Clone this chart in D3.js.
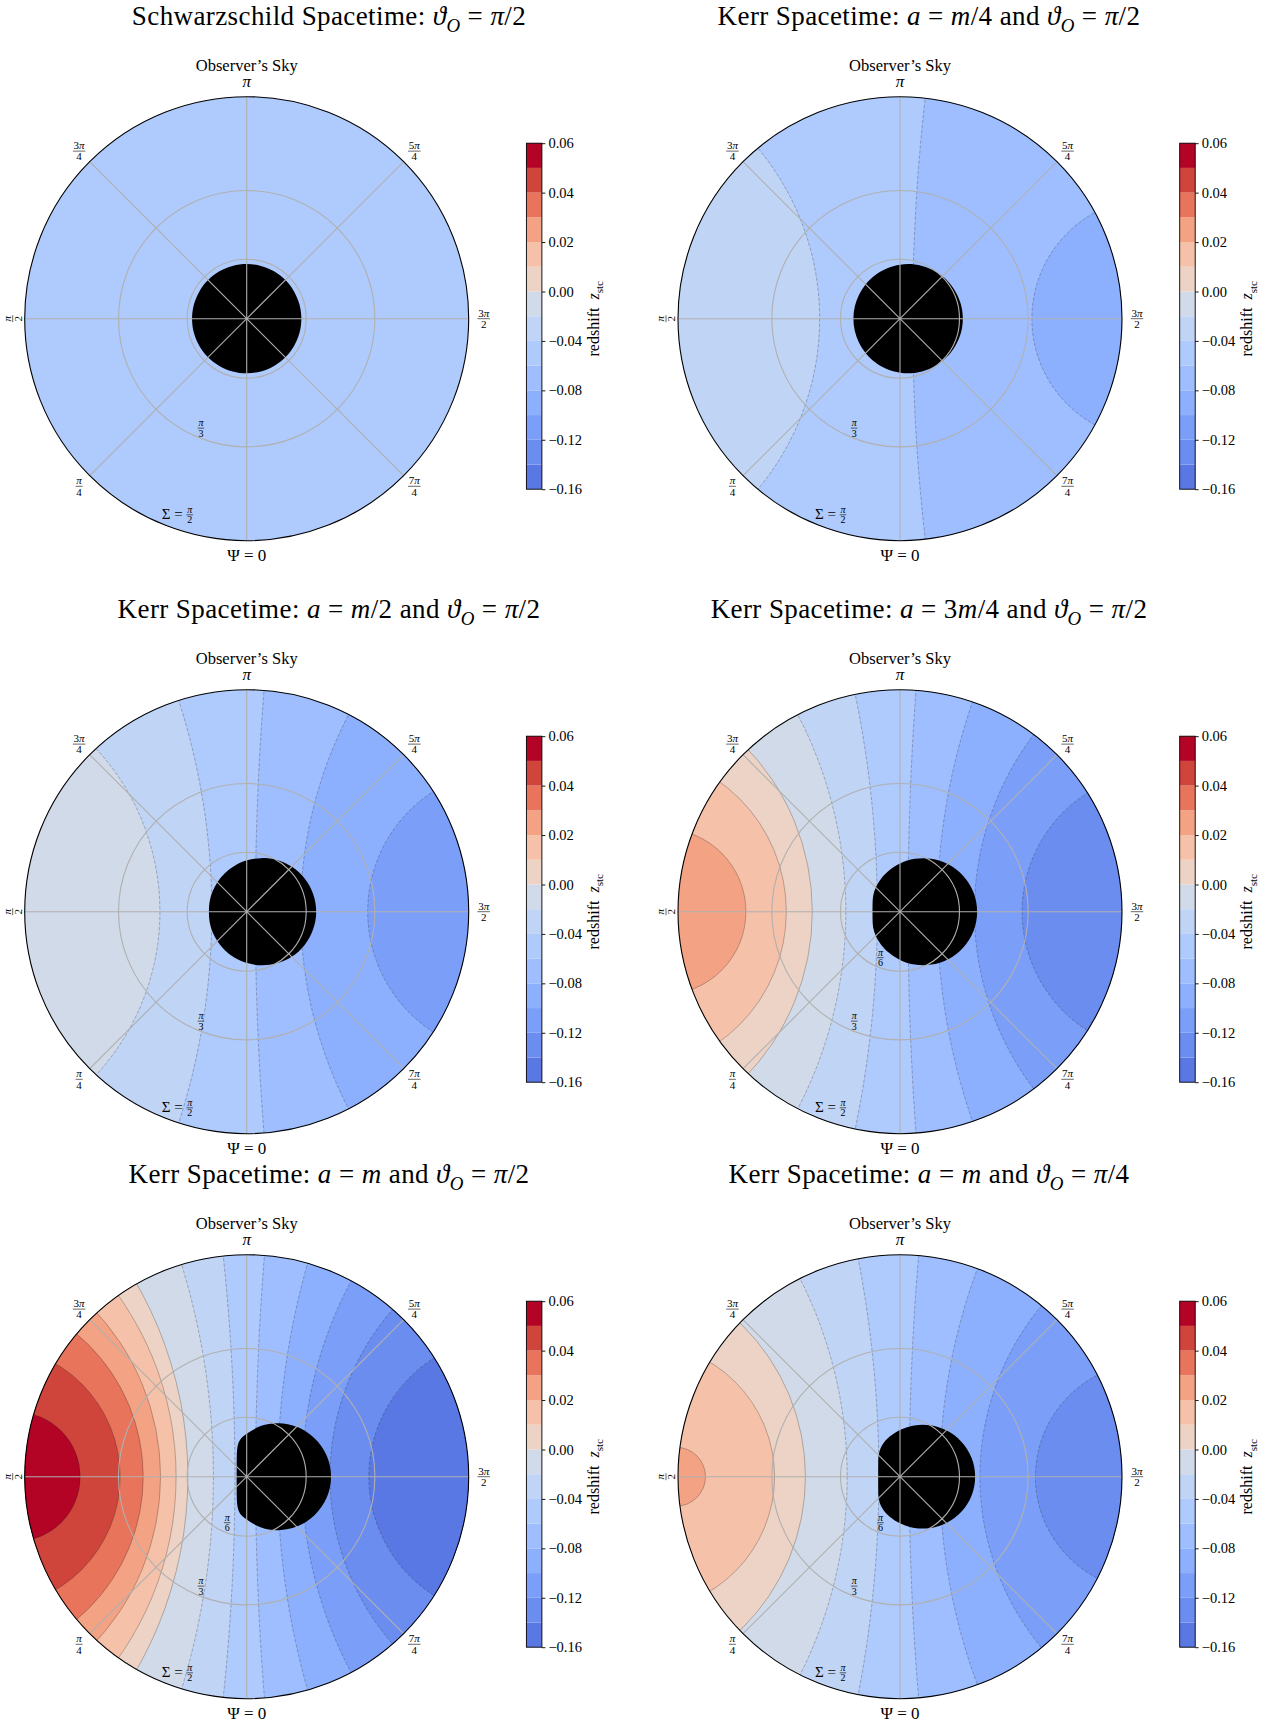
<!DOCTYPE html>
<html lang="en">
<head>
<meta charset="utf-8">
<title>Redshift on the observer's sky</title>
<script src="https://cdn.jsdelivr.net/npm/d3@7"></script>
<style>
  html, body { margin: 0; padding: 0; background: #fff; }
  svg { display: block; font-family: "Liberation Serif", "DejaVu Serif", serif; }
  text { white-space: pre; fill: #000; }
  .grid { fill: none; stroke: #b0b0b0; stroke-width: 1.1; }
  .spine { fill: none; stroke: #000; stroke-width: 1.1; }
  .iso { fill: none; stroke: #1a1a1a; stroke-opacity: 0.45; stroke-width: 0.6; }
</style>
</head>
<body>
<svg id="fig" width="1265" height="1723"></svg>
<script>
// colour bar boundaries of z_stc and the colour of each band (lowest first)
const levels = [-0.16, -0.14, -0.12, -0.10, -0.08, -0.06, -0.04, -0.02, 0.00, 0.01, 0.02, 0.03, 0.04, 0.05, 0.06];
const bandColors = ["#5a78e4", "#6b8df0", "#7b9ff9", "#8db0fe", "#9ebeff", "#afcafc", "#c0d4f5",
                    "#d1dae9", "#ecd3c5", "#f5c1a9", "#f4a284", "#e7745b", "#cf453c", "#b40426"];
const cbTicks = [-0.16, -0.12, -0.08, -0.04, 0.00, 0.02, 0.04, 0.06];

const titles = [
  "Schwarzschild Spacetime: *ϑ*_O = *π*/2",
  "Kerr Spacetime: *a* = *m*/4 and *ϑ*_O = *π*/2",
  "Kerr Spacetime: *a* = *m*/2 and *ϑ*_O = *π*/2",
  "Kerr Spacetime: *a* = 3*m*/4 and *ϑ*_O = *π*/2",
  "Kerr Spacetime: *a* = *m* and *ϑ*_O = *π*/2",
  "Kerr Spacetime: *a* = *m* and *ϑ*_O = *π*/4"
];

// redshift of the band touching the Psi = pi/2 rim
const rimZ = [-0.05, -0.03, -0.01, 0.025, 0.055, 0.025];

// contour levels met along the Psi = pi/2 -> 3pi/2 diameter, left to right
const crossLevels = [
  [],
  [-0.04, -0.06, -0.08],
  [-0.02, -0.04, -0.06, -0.08, -0.10],
  [0.02, 0.01, 0.00, -0.02, -0.04, -0.06, -0.08, -0.10, -0.12],
  [0.05, 0.04, 0.03, 0.02, 0.01, 0.00, -0.02, -0.04, -0.06, -0.08, -0.10, -0.12, -0.14],
  [0.02, 0.01, 0.00, -0.02, -0.04, -0.06, -0.08, -0.10, -0.12]
];
// where they cross it, projected sky radius tan(Sigma/2), signed (-1 = Psi = pi/2 rim)
const crossAt = [
  [],
  [-0.362, 0.057, 0.594],
  [-0.391, -0.157, 0.039, 0.243, 0.545],
  [-0.694, -0.512, -0.395, -0.244, -0.102, 0.036, 0.168, 0.335, 0.55],
  [-0.75, -0.57, -0.466, -0.388, -0.318, -0.265, -0.15, -0.053, 0.04, 0.14, 0.25, 0.375, 0.55],
  [-0.876, -0.565, -0.426, -0.238, -0.095, 0.042, 0.18, 0.36, 0.61]
];

// shadow outline: projected radius tan(Sigma/2) every 15 deg of Psi
const shadowPsi = [0, 15, 30, 45, 60, 75, 90, 105, 120, 135, 150, 165,
                   180, 195, 210, 225, 240, 255, 270, 285, 300, 315, 330, 345];
const shadowRho = [
  [0.249, 0.249, 0.249, 0.249, 0.249, 0.249, 0.249, 0.249, 0.249, 0.249, 0.249, 0.249,
   0.249, 0.249, 0.249, 0.249, 0.249, 0.249, 0.249, 0.249, 0.249, 0.249, 0.249, 0.249],
  [0.246, 0.237, 0.228, 0.221, 0.216, 0.213, 0.212, 0.213, 0.216, 0.221, 0.228, 0.237,
   0.246, 0.256, 0.265, 0.274, 0.280, 0.285, 0.287, 0.285, 0.280, 0.274, 0.265, 0.256],
  [0.234, 0.216, 0.201, 0.189, 0.180, 0.175, 0.171, 0.175, 0.180, 0.189, 0.201, 0.216,
   0.234, 0.253, 0.273, 0.291, 0.305, 0.314, 0.318, 0.314, 0.305, 0.291, 0.273, 0.253],
  [0.220, 0.194, 0.173, 0.156, 0.142, 0.128, 0.124, 0.128, 0.142, 0.156, 0.173, 0.194,
   0.220, 0.250, 0.280, 0.309, 0.332, 0.348, 0.353, 0.348, 0.332, 0.309, 0.280, 0.250],
  [0.194, 0.168, 0.090, 0.064, 0.052, 0.047, 0.045, 0.047, 0.052, 0.064, 0.090, 0.168,
   0.194, 0.242, 0.284, 0.324, 0.357, 0.379, 0.387, 0.379, 0.357, 0.324, 0.284, 0.242],
  [0.213, 0.188, 0.166, 0.139, 0.113, 0.102, 0.098, 0.102, 0.113, 0.139, 0.166, 0.188,
   0.213, 0.242, 0.272, 0.300, 0.323, 0.339, 0.344, 0.339, 0.323, 0.300, 0.272, 0.242]
];

const thetaTicks = [0, 45, 90, 135, 180, 225, 270, 315];
const thetaLabels = ["Ψ = 0", "*π*/4", "*π*/2", "3*π*/4", "*π*", "5*π*/4", "3*π*/2", "7*π*/4"];
const rTicks = [Math.PI / 6, Math.PI / 3, Math.PI / 2];
const rLabels = ["*π*/6", "*π*/3", "Σ = *π*/2"];
// the pi/6 label is lost behind the shadow in the first three panels
const sixthLabelShown = [false, false, false, true, true, true];

// layout
const R = 222;
const colX = [246.7, 900], rowY = [318.7, 911.7, 1476.7], titleX = [329, 929];

const rho = d3.scaleLinear().domain([0, 1]).range([0, R]);
const xPos = d3.scaleLinear().domain([-1, 1]).range([-R, R]);
const sky = s => rho(Math.tan(s / 2));
const rad = d => d * Math.PI / 180;
const zColor = d3.scaleThreshold().domain(levels.slice(1, -1)).range(bandColors);

const fig = d3.select("#fig");

// *x* italic, _O italic subscript, _{stc} upright subscript
function addMath(text, str, size) {
  const parts = str.split(/(\*[^*]+\*|_\{[^}]+\}|_[A-Za-z])/).filter(p => p);
  let back = 0;
  parts.forEach(p => {
    let t = p, italic = false, sub = false;
    if (p.startsWith("*")) { t = p.slice(1, -1); italic = true; }
    else if (p.startsWith("_{")) { t = p.slice(2, -1); sub = true; }
    else if (p.startsWith("_")) { t = p.slice(1); sub = true; italic = true; }
    const ts = text.append("tspan").text(t);
    if (italic) ts.attr("font-style", "italic");
    if (sub) {
      ts.attr("font-size", size * 0.7).attr("dy", size * 0.28);
      back = size * 0.28;
    } else if (back) {
      ts.attr("dy", -back);
      back = 0;
    }
  });
  return text;
}

function fraction(sel, num, den, fs) {
  const n = addMath(sel.append("text").attr("text-anchor", "middle")
    .attr("y", -1.8).attr("font-size", fs), num, fs);
  const d = addMath(sel.append("text").attr("text-anchor", "middle")
    .attr("y", fs * 0.72 + 1.4).attr("font-size", fs), den, fs);
  const w = Math.max(n.node().getComputedTextLength(), d.node().getComputedTextLength()) + 1.5;
  sel.append("line").attr("x1", -w / 2).attr("x2", w / 2)
    .attr("stroke", "#000").attr("stroke-width", 0.6);
  return w;
}

const shadowLine = d3.lineRadial()
  .angle(d => rad(d[0] + 180))
  .radius(d => rho(d[1]))
  .curve(d3.curveBasisClosed);

titles.forEach((title, i) => {
  const col = i % 2, cx = colX[col], cy = rowY[Math.floor(i / 2)];

  addMath(fig.append("text").attr("x", titleX[col]).attr("y", cy - 294)
    .attr("text-anchor", "middle").attr("font-size", 27)
    .attr("letter-spacing", 0.4), title, 27);

  const g = fig.append("g").attr("transform", `translate(${cx},${cy})`);
  g.append("clipPath").attr("id", "sky" + i).append("circle").attr("r", R);
  const field = g.append("g").attr("clip-path", `url(#sky${i})`);

  // iso-redshift lines are circles meeting the rim at right angles
  const xs = crossAt[i], ls = crossLevels[i];
  const iso = xs.map((x0, j) => {
    const chi = Math.PI / 2 + 2 * Math.atan(x0);
    return { j, x0, level: ls[j], c: -1 / Math.cos(chi), r: Math.abs(Math.tan(chi)) };
  });
  const regionColor = j => j === 0 ? zColor(rimZ[i]) : zColor(ls[j - 1] - 1e-6);
  const nLeft = xs.filter(x => x < 0).length;

  field.append("circle").attr("r", R).attr("fill", regionColor(nLeft));
  field.selectAll("circle.left")
    .data(iso.filter(d => d.x0 < 0).reverse())
    .join("circle").attr("class", "left")
    .attr("cx", d => xPos(d.c)).attr("r", d => rho(d.r))
    .attr("fill", d => regionColor(d.j));
  field.selectAll("circle.right")
    .data(iso.filter(d => d.x0 >= 0))
    .join("circle").attr("class", "right")
    .attr("cx", d => xPos(d.c)).attr("r", d => rho(d.r))
    .attr("fill", d => regionColor(d.j + 1));
  field.selectAll("circle.iso")
    .data(iso)
    .join("circle").attr("class", "iso")
    .attr("cx", d => xPos(d.c)).attr("r", d => rho(d.r))
    .attr("stroke-dasharray", d => d.level < 0 ? "3.5 1.6" : null);

  // shadow
  g.append("path")
    .datum(shadowPsi.map((p, j) => [p, shadowRho[i][j]]))
    .attr("d", shadowLine).attr("fill", "#000");

  // grid
  g.selectAll("circle.grid").data(rTicks.slice(0, -1))
    .join("circle").attr("class", "grid").attr("r", sky);
  g.selectAll("line.grid").data(thetaTicks)
    .join("line").attr("class", "grid")
    .attr("x2", d => -R * Math.sin(rad(d))).attr("y2", d => R * Math.cos(rad(d)));
  g.append("circle").attr("class", "spine").attr("r", R);

  g.append("text").attr("y", -248).attr("text-anchor", "middle")
    .attr("font-size", 16.5).text("Observer’s Sky");

  // angular tick labels
  thetaTicks.forEach((t, j) => {
    const lr = t === 90 ? R + 12 : R + 15;
    const lg = g.append("g").attr("transform",
      `translate(${-lr * Math.sin(rad(t))},${lr * Math.cos(rad(t))})` + (t === 90 ? " rotate(-90)" : ""));
    const s = thetaLabels[j];
    if (s.includes("/")) {
      const [num, den] = s.split("/");
      fraction(lg, num, den, 11);
    } else {
      addMath(lg.append("text").attr("text-anchor", "middle").attr("y", 5)
        .attr("font-size", 17), s, 17);
    }
  });

  // radial tick labels, left aligned at 22.5 deg
  rTicks.forEach((s, j) => {
    if (j === 0 && !sixthLabelShown[i]) return;
    const rr = sky(s), a = rad(22.5);
    const lg = g.append("g").attr("transform",
      `translate(${-rr * Math.sin(a)},${rr * Math.cos(a) - 9})`);
    const m = rLabels[j].match(/^(.*?)(\S+)\/(\S+)$/);
    let x0 = 0;
    if (m[1]) {
      const pre = addMath(lg.append("text").attr("y", 4.5).attr("font-size", 15), m[1], 15);
      x0 = pre.node().getComputedTextLength();
    }
    const fg = lg.append("g");
    const w = fraction(fg, m[2], m[3], 10);
    fg.attr("transform", `translate(${x0 + w / 2},0)`);
  });

  // colour bar
  const cbX = cx + 279.7, cbW = 15.5, cbTop = cy - 175.5, cbBottom = cy + 170.5;
  const step = (cbBottom - cbTop) / (levels.length - 1);
  const yCb = d3.scaleLinear().domain(levels).range(levels.map((_, k) => cbBottom - k * step));
  const cb = fig.append("g");
  cb.selectAll("rect.band").data(d3.pairs(levels))
    .join("rect").attr("class", "band")
    .attr("x", cbX).attr("width", cbW)
    .attr("y", d => yCb(d[1])).attr("height", d => yCb(d[0]) - yCb(d[1]))
    .attr("fill", d => zColor((d[0] + d[1]) / 2));
  cb.append("rect").attr("x", cbX).attr("y", cbTop).attr("width", cbW)
    .attr("height", cbBottom - cbTop).attr("fill", "none")
    .attr("stroke", "#000").attr("stroke-width", 0.9);
  const ax = cb.append("g").attr("transform", `translate(${cbX + cbW},0)`)
    .call(d3.axisRight(yCb).tickValues(cbTicks).tickFormat(d3.format(".2f"))
      .tickSize(3.5).tickPadding(3));
  ax.attr("font-family", null).attr("font-size", 14.5);
  ax.select(".domain").remove();
  ax.selectAll(".tick line").attr("stroke", "#000").attr("stroke-width", 0.9);
  ax.selectAll(".tick text").attr("fill", "#000");

  addMath(cb.append("text")
    .attr("transform", `translate(${cbX + cbW + 57},${cy}) rotate(-90)`)
    .attr("text-anchor", "middle").attr("font-size", 16), "redshift  *z*_{stc}", 16);
});
</script>
</body>
</html>
